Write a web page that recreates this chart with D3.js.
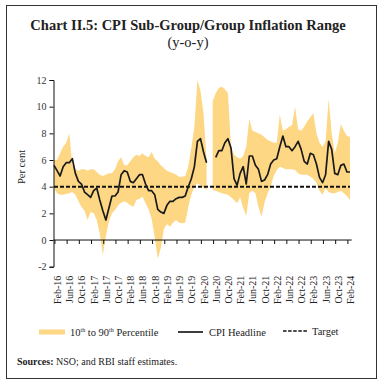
<!DOCTYPE html>
<html>
<head>
<meta charset="utf-8">
<script src="https://cdn.jsdelivr.net/npm/d3@7"></script>
<style>
  body { margin: 0; background: #fff; }
  svg { display: block; }
  .tick-x { font-family: "Liberation Serif", serif; font-size: 10px; fill: #222; }
  .tick-y { font-family: "Liberation Serif", serif; font-size: 10px; fill: #333; }
  .legend { font-family: "Liberation Serif", serif; font-size: 10.5px; fill: #222; }
</style>
</head>
<body>
<div id="chart"></div>
<script>
// Months on the category axis: Jan-16 .. Feb-24
const months = d3.timeMonth.range(new Date(2016, 0, 1), new Date(2024, 2, 1)).map(d3.timeFormat('%b-%y'));

// Labels shown under the axis (every 4th month)
const tickLabels = ['Feb-16', 'Jun-16', 'Oct-16', 'Feb-17', 'Jun-17', 'Oct-17', 'Feb-18', 'Jun-18',
    'Oct-18', 'Feb-19', 'Jun-19', 'Oct-19', 'Feb-20', 'Jun-20', 'Oct-20', 'Feb-21', 'Jun-21',
    'Oct-21', 'Feb-22', 'Jun-22', 'Oct-22', 'Feb-23', 'Jun-23', 'Oct-23', 'Feb-24'];

const yTicks = [-2, 0, 2, 4, 6, 8, 10, 12];

// CPI headline inflation (y-o-y, per cent); Apr-20 and May-20 not shown
const cpiHeadline = [
    5.6, 5.2, 4.8, 5.5, 5.8, 5.8, 6.1, 5.0, 4.4, 4.2, 3.6, 3.4,
    3.2, 3.7, 3.9, 3.0, 2.2, 1.5, 2.4, 3.3, 3.3, 3.6, 4.9, 5.2,
    5.1, 4.4, 4.3, 4.6, 4.9, 4.9, 4.2, 3.7, 3.7, 3.4, 2.3, 2.1,
    2.0, 2.6, 2.9, 2.9, 3.1, 3.2, 3.2, 3.3, 4.0, 4.6, 5.5, 7.4,
    7.6, 6.6, 5.8, null, null, 6.2, 6.7, 6.7, 7.3, 7.6, 6.9, 4.6,
    4.1, 5.0, 5.5, 4.2, 6.3, 6.3, 5.6, 5.3, 4.4, 4.5, 4.9, 5.7,
    6.0, 6.1, 7.0, 7.8, 7.0, 7.0, 6.7, 7.0, 7.4, 6.8, 5.9, 5.7,
    6.5, 6.4, 5.7, 4.7, 4.3, 4.9, 7.4, 6.8, 5.0, 4.9, 5.6, 5.7,
    5.1, 5.1
];

// 90th percentile of sub-group/group inflation
const p90 = [
    6.0, 6.0, 6.5, 7.0, 7.3, 8.0, 5.6, 5.3, 5.2, 5.3, 5.3, 5.2,
    5.3, 5.3, 5.1, 4.9, 4.8, 4.9, 5.0, 5.0, 5.3, 5.9, 6.2, 5.6,
    5.6, 5.9, 6.2, 6.4, 6.3, 6.5, 6.3, 6.2, 6.6, 6.1, 5.9, 5.6,
    5.4, 5.2, 5.1, 5.0, 4.9, 4.75, 4.75, 4.8, 5.5, 6.9, 8.5, 12.0,
    11.2, 9.5, 6.0, null, 10.4, 11.0, 11.4, 11.5, 11.3, 11.0, 7.0, 6.4,
    6.2, 6.1, 6.3, 7.0, 9.1, 8.2, 8.1, 8.0, 7.9, 7.7, 7.5, 7.4,
    7.3, 7.3, 9.4, 8.2, 8.3, 8.5, 8.6, 10.0, 8.3, 8.2, 8.5, 8.9,
    9.2, 9.5, 8.0, 7.3, 7.0, 7.4, 10.6, 8.0, 6.5, 7.3, 8.7, 8.2,
    7.8, 7.75
];

// 10th percentile of sub-group/group inflation
const p10 = [
    3.9, 3.5, 3.4, 3.4, 3.45, 3.5, 3.6, 3.4, 2.9, 2.5, 2.2, 1.5,
    2.1, 2.0, 1.5, 0.5, -1.1, 0.3, 1.4, 2.0, 2.25, 2.6, 2.8, 2.9,
    2.8, 2.6, 2.5, 3.0, 3.1, 3.25, 2.75, 2.3, 1.6, 0.2, -1.4, -0.6,
    0.8, 1.2, 1.0, 1.3, 1.5, 1.3, 1.25, 1.3, 2.5, 3.4, 4.0, 4.25,
    4.1, 3.9, 3.75, null, 3.75, 3.7, 3.6, 3.5, 3.45, 3.4, 3.2, 3.0,
    2.75, 3.2, 2.4, 1.8, 3.5, 3.7, 3.5, 2.5, 1.75, 2.8, 3.5, 4.0,
    4.8, 5.25, 5.5, 5.4, 5.3, 5.3, 5.3, 5.25, 5.0, 4.9, 4.9, 4.9,
    4.75, 4.6, 4.3, 3.7, 3.4, 3.9, 3.6, 3.5, 3.5, 3.6, 3.7, 3.5,
    3.3, 3.0
];

const target = 4;

const W = 384, H = 386;
const svg = d3.select('#chart').append('svg')
    .attr('width', W)
    .attr('height', H);

svg.append('rect').attr('width', W).attr('height', H).attr('fill', '#fff');

// outer frame
svg.append('rect')
    .attr('x', 6.5).attr('y', 5.5)
    .attr('width', 370).attr('height', 373)
    .attr('fill', 'none')
    .attr('stroke', '#333')
    .attr('stroke-width', 1);

// title
const title = svg.append('text')
    .attr('text-anchor', 'middle')
    .attr('font-family', '"Liberation Serif", serif')
    .attr('font-weight', 'bold')
    .attr('font-size', 14.5)
    .attr('fill', '#222');
title.append('tspan').attr('x', 188).attr('y', 30).text('Chart II.5: CPI Sub-Group/Group Inflation Range');
title.append('tspan').attr('x', 188).attr('y', 47).attr('font-weight', 'normal').text('(y-o-y)');

const x = d3.scaleLinear().domain([0, months.length - 1]).range([54, 350]);
const y = d3.scaleLinear().domain([-2, 12]).range([266.7, 80]);

const idx = months.map((m, i) => i);

// percentile band
const area = d3.area()
    .defined(i => p90[i] != null && p10[i] != null)
    .x(i => x(i))
    .y0(i => y(p10[i]))
    .y1(i => y(p90[i]));

svg.append('path')
    .datum(idx)
    .attr('d', area)
    .attr('fill', '#fdd784');

// target line
svg.append('line')
    .attr('x1', x(0)).attr('x2', x(months.length - 1))
    .attr('y1', y(target)).attr('y2', y(target))
    .attr('stroke', '#111')
    .attr('stroke-width', 2)
    .attr('stroke-dasharray', '4,2');

// CPI headline
const line = d3.line()
    .defined(i => cpiHeadline[i] != null)
    .x(i => x(i))
    .y(i => y(cpiHeadline[i]));

svg.append('path')
    .datum(idx)
    .attr('d', line)
    .attr('fill', 'none')
    .attr('stroke', '#1a1a1a')
    .attr('stroke-width', 1.7)
    .attr('stroke-linejoin', 'round');

// y axis
const yAxis = svg.append('g')
    .attr('transform', 'translate(53.5,0)')
    .call(d3.axisLeft(y).tickValues(yTicks).tickFormat(d => String(d)).tickSize(4).tickPadding(3));
yAxis.select('.domain').attr('stroke', '#111');
yAxis.selectAll('.tick line').attr('stroke', '#111');
yAxis.selectAll('.tick text').attr('class', 'tick-y').attr('font-family', null).attr('font-size', null);

// x axis at zero
const xAxisG = svg.append('g');
xAxisG.append('line')
    .attr('x1', 53.5).attr('x2', 351.7)
    .attr('y1', y(0)).attr('y2', y(0))
    .attr('stroke', '#111');

const tickPos = d3.range(0, months.length, 4);
xAxisG.selectAll('.xt')
    .data(tickPos)
    .enter()
    .append('line')
    .attr('x1', d => x(d + 0.3)).attr('x2', d => x(d + 0.3))
    .attr('y1', y(0)).attr('y2', y(0) + 4)
    .attr('stroke', '#111');

xAxisG.selectAll('.tick-x')
    .data(tickLabels)
    .enter()
    .append('text')
    .attr('class', 'tick-x')
    .attr('text-anchor', 'end')
    .attr('dy', '0.35em')
    .attr('transform', d => `translate(${x(months.indexOf(d)) + 0.5},${y(-2) + 9}) rotate(-90)`)
    .text(d => d);

// y axis title
svg.append('text')
    .attr('class', 'legend')
    .attr('text-anchor', 'middle')
    .attr('transform', 'translate(25,167) rotate(-90)')
    .text('Per cent');

// legend
const lg = svg.append('g');
lg.append('rect')
    .attr('x', 39).attr('y', 329.5)
    .attr('width', 26).attr('height', 5)
    .attr('fill', '#fdd784');
const t1 = lg.append('text').attr('class', 'legend').attr('x', 70).attr('y', 335.5);
t1.append('tspan').text('10');
t1.append('tspan').attr('font-size', '6px').attr('dy', -4).text('th');
t1.append('tspan').attr('dy', 4).text(' to 90');
t1.append('tspan').attr('font-size', '6px').attr('dy', -4).text('th');
t1.append('tspan').attr('dy', 4).text(' Percentile');

lg.append('line')
    .attr('x1', 178).attr('x2', 203)
    .attr('y1', 332).attr('y2', 332)
    .attr('stroke', '#1a1a1a').attr('stroke-width', 1.7);
lg.append('text').attr('class', 'legend').attr('x', 209).attr('y', 335.5).text('CPI Headline');

lg.append('line')
    .attr('x1', 283).attr('x2', 307)
    .attr('y1', 331).attr('y2', 331)
    .attr('stroke', '#111').attr('stroke-width', 1.3)
    .attr('stroke-dasharray', '3.5,1.6');
lg.append('text').attr('class', 'legend').attr('x', 312).attr('y', 334.5).text('Target');

// sources
const src = svg.append('text')
    .attr('x', 17).attr('y', 365)
    .attr('font-family', '"Liberation Serif", serif')
    .attr('font-size', 10)
    .attr('fill', '#222');
src.append('tspan').attr('font-weight', 'bold').text('Sources:');
src.append('tspan').text(' NSO; and RBI staff estimates.');
</script>
</body>
</html>
